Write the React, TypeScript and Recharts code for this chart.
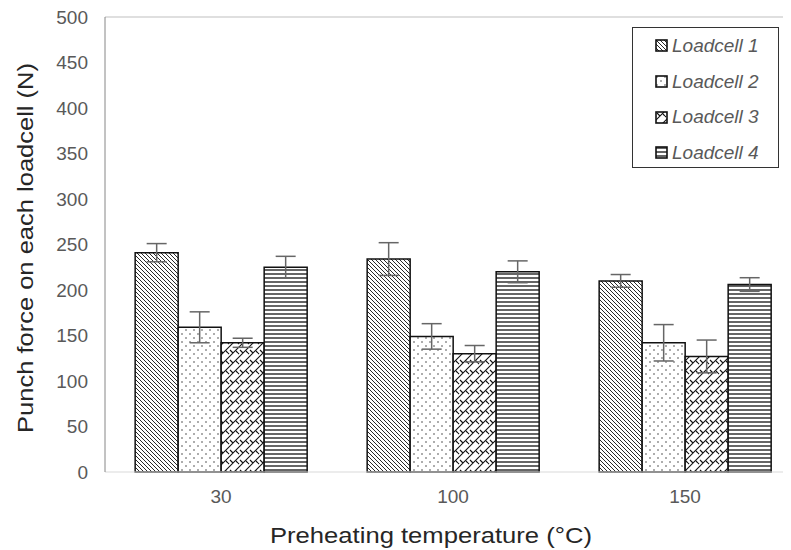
import React from 'react';
import { BarChart, Bar, XAxis, YAxis, ErrorBar, ReferenceLine } from 'recharts';

const categories = ['30', '100', '150'];
const seriesNames = ['Loadcell 1', 'Loadcell 2', 'Loadcell 3', 'Loadcell 4'];
const loadcell1 = [241, 234, 210];
const loadcell2 = [159, 149, 142];
const loadcell3 = [142, 130, 127];
const loadcell4 = [225, 220, 206];
const error1 = [10, 18, 7];
const error2 = [17, 14, 20];
const error3 = [5, 9, 18];
const error4 = [12, 12, 7.5];
const yTicks = [0, 50, 100, 150, 200, 250, 300, 350, 400, 450, 500];

const data = categories.map((c, i) => ({
  cat: c,
  l1: loadcell1[i], e1: error1[i],
  l2: loadcell2[i], e2: error2[i],
  l3: loadcell3[i], e3: error3[i],
  l4: loadcell4[i], e4: error4[i],
}));

const patternIds = ['pat1', 'pat2', 'pat3', 'pat4'];
const FONT = '"Liberation Sans", Arial, sans-serif';

const PatternDefs = () => (
  <svg width={0} height={0} style={{ position: 'absolute' }}>
    <defs>
      <pattern id="pat1" width={4} height={4} patternUnits="userSpaceOnUse">
        <rect width={4} height={4} fill="#fff" />
        <path d="M-1,-1 L5,5 M-1,3 L1,5 M3,-1 L5,1" stroke="#111" strokeWidth={0.9} />
      </pattern>
      <pattern id="pat2" width={8} height={8} patternUnits="userSpaceOnUse">
        <rect width={8} height={8} fill="#fff" />
        <circle cx={2} cy={2} r={0.8} fill="#444" />
        <circle cx={6} cy={6} r={0.8} fill="#444" />
      </pattern>
      <pattern id="pat3" width={10} height={10} patternUnits="userSpaceOnUse">
        <rect width={10} height={10} fill="#fff" />
        <path d="M0,10 L10,0 M-1,1 L1,-1 M9,11 L11,9 M2,2 L5,5 M8,3 L10,5 M0,5 L1,6" stroke="#111" strokeWidth={1.1} />
      </pattern>
      <pattern id="pat4" width={4} height={4} patternUnits="userSpaceOnUse">
        <rect width={4} height={4} fill="#fff" />
        <path d="M0,2 L4,2" stroke="#111" strokeWidth={1.3} />
      </pattern>
    </defs>
  </svg>
);

const YTitle = () => (
  <text x={17} y={240} transform="rotate(-90 17 240)" textAnchor="middle" dominantBaseline="central"
    fill="#262626" fontSize={22} fontFamily={FONT} textLength={370} lengthAdjust="spacingAndGlyphs">
    Punch force on each loadcell (N)
  </text>
);

const XTitle = () => (
  <text x={423} y={527} textAnchor="middle" dominantBaseline="central"
    fill="#262626" fontSize={22} fontFamily={FONT} textLength={322} lengthAdjust="spacingAndGlyphs">
    Preheating temperature (°C)
  </text>
);

const LegendBox = () => (
  <div style={{
    position: 'absolute', left: 624, top: 19, zIndex: 5,
    width: 145, height: 139, border: '1.5px solid #333', background: '#fff',
    boxSizing: 'content-box', fontFamily: FONT,
  }}>
    {seriesNames.map((n, i) => (
      <div key={n} style={{ display: 'flex', alignItems: 'center', height: 35.7, paddingLeft: 22 }}>
        <svg width={13} height={13} style={{ marginRight: 4 }}>
          <rect x={1} y={1} width={11} height={11} fill={`url(#${patternIds[i]})`} stroke="#111" strokeWidth={1.6} />
        </svg>
        <span style={{ fontStyle: 'italic', fontSize: 19, color: '#595959' }}>{n}</span>
      </div>
    ))}
  </div>
);

export default function App() {
  const keys = ['l1', 'l2', 'l3', 'l4'];
  const errs = ['e1', 'e2', 'e3', 'e4'];
  return (
    <div style={{ width: 783, height: 542, overflow: 'hidden', position: 'relative' }}>
      <style>{'html,body{overflow:hidden}'}</style>
      <PatternDefs />
      <BarChart width={795} height={542} data={data}
        margin={{ top: 9, right: 2, bottom: 38, left: 0 }}
        barCategoryGap="13%" barGap={0}>
        <ReferenceLine y={500} stroke="#bfbfbf" strokeWidth={1} />
        <XAxis dataKey="cat" height={40} axisLine={{ stroke: '#d9d9d9' }} tickLine={false}
          tick={{ fill: '#595959', fontSize: 19, fontFamily: FONT }} tickMargin={12}
          label={<XTitle />} />
        <YAxis domain={[0, 500]} ticks={yTicks} width={97} interval={0}
          axisLine={{ stroke: '#868686' }} tickLine={false}
          tick={{ fill: '#595959', fontSize: 19, fontFamily: FONT }} tickMargin={11}
          label={<YTitle />} />
        {keys.map((k, i) => (
          <Bar key={k} dataKey={k} name={seriesNames[i]} fill={`url(#${patternIds[i]})`}
            stroke="#111" strokeWidth={1.5} isAnimationActive={false}>
            <ErrorBar dataKey={errs[i]} width={10} stroke="#666" strokeWidth={1.5} />
          </Bar>
        ))}
      </BarChart>
      <LegendBox />
    </div>
  );
}
